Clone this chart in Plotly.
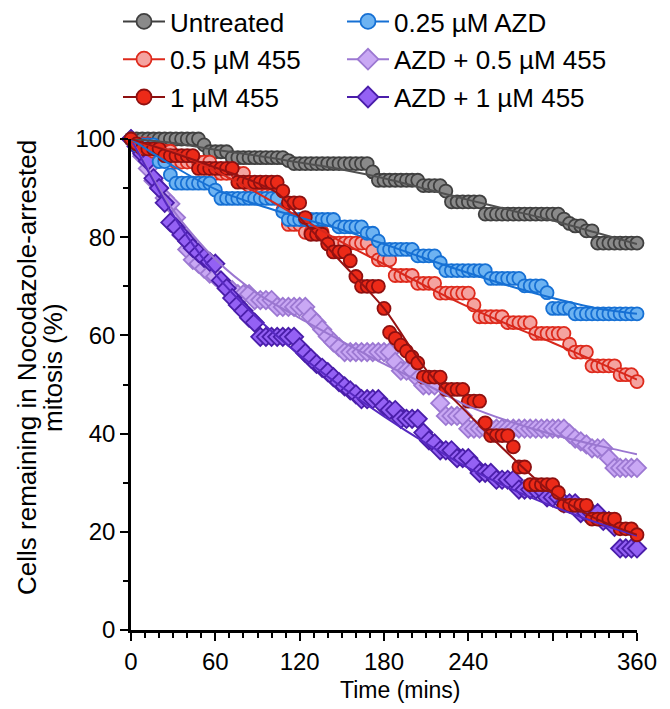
import plotly.graph_objects as go

# Sampling times (minutes)
TIME = [0, 4, 8, 12, 16, 20, 24, 28, 32, 36, 40, 44, 48, 52, 56, 60, 64, 68, 72, 76,
        80, 84, 88, 92, 96, 100, 104, 108, 112, 116, 120, 124, 128, 132, 136, 140,
        144, 148, 152, 156, 160, 164, 168, 172, 176, 180, 184, 188, 192, 196, 200,
        204, 208, 212, 216, 220, 224, 228, 232, 236, 240, 244, 248, 252, 256, 260,
        264, 268, 272, 276, 280, 284, 288, 292, 296, 300, 304, 308, 312, 316, 320,
        324, 328, 332, 336, 340, 344, 348, 352, 356, 360]

# Percentage of cells still arrested in mitosis
UNTREATED = [100, 100, 100, 100, 100, 100, 100, 100, 100, 100, 100, 100, 100,
             98.8, 97.4, 97.4, 97.4, 97.4,
             96.2, 96.2, 96.2, 96.2, 96.2, 96.2, 96.2, 96.2, 96.2, 96.2,
             95.6, 95.0, 95.0, 95.0, 95.0, 95.0, 95.0, 95.0, 95.0, 95.0, 95.0, 95.0, 95.0, 95.0, 95.0,
             93.3, 91.6, 91.6, 91.6, 91.6, 91.6, 91.6, 91.6, 91.6,
             90.5, 90.5, 90.5, 90.5, 89.4, 87.2, 87.2, 87.2, 87.2, 87.2, 87.2,
             84.7, 84.7, 84.7, 84.7, 84.7, 84.7, 84.7, 84.7, 84.7, 84.7, 84.7, 84.7, 84.7, 84.7,
             83.7, 82.8, 82.3, 82.3, 81.3, 81.3,
             78.8, 78.8, 78.8, 78.8, 78.8, 78.8, 78.8, 78.8]

LOW_455 = [100, 99.0, 99.0, 99.0, 97.5, 97.5, 97.5, 97.5,
           95.3, 95.3, 95.3, 95.3, 95.3, 95.3, 95.3,
           93.0, 93.0, 93.0, 93.0, 93.0, 93.0, 90.5, 88.5, 88.5, 88.5, 88.5, 88.5,
           85.5, 82.6, 82.6, 82.6, 81.0, 81.0, 81.0, 81.0,
           78.8, 78.8, 78.8, 78.8, 78.8, 78.8, 78.8, 78.8,
           77.2, 75.4, 75.4, 75.4, 72.2, 72.2, 72.2, 72.2, 70.6, 70.6, 70.6, 70.6,
           68.6, 68.6, 68.6, 68.6, 68.6, 68.6, 66.2, 63.8, 63.8, 63.8, 63.8, 63.8,
           62.6, 62.6, 62.6, 62.6, 62.6, 60.4, 60.4, 60.4, 60.4, 60.4, 60.4,
           58.2, 56.6, 56.6, 56.6, 53.8, 53.8, 53.8, 53.8, 53.8, 52.0, 52.0, 52.0, 50.6]

HIGH_455 = [100, 99.0, 98.0, 98.0, 98.0, 98.0, 96.6, 96.6, 96.6, 96.6, 96.6, 96.6,
            94.0, 94.0, 94.0, 94.0, 94.0, 94.0, 94.0,
            91.2, 91.2, 91.2, 91.2, 91.2, 91.2, 91.2, 91.2,
            89.4, 87.0, 87.0, 87.0, 84.0, 80.6, 80.6, 80.6, 78.6, 77.0, 77.0, 77.0, 75.2,
            72.0, 70.0, 70.0, 70.0, 70.0, 65.5, 60.6, 59.4, 58.0, 56.8, 55.6, 54.4,
            51.5, 51.5, 51.5, 51.5, 49.0, 49.0, 49.0, 49.0, 46.6, 46.6, 46.6,
            42.2, 39.6, 39.6, 39.6, 39.6, 37.3, 33.2, 33.2,
            29.6, 29.6, 29.6, 29.6, 29.6, 28.0, 25.4, 25.4, 25.4, 25.4, 25.4,
            22.6, 22.6, 22.6, 22.6, 22.6, 20.6, 20.6, 20.6, 19.4]

AZD_025 = [100, 98.8, 98.8, 98.8, 98.8, 95.4, 95.4, 92.7,
           91.0, 91.0, 91.0, 91.0, 91.0, 91.0, 91.0, 89.6,
           87.9, 87.9, 87.9, 87.9, 87.9, 87.9, 87.9, 87.9, 87.9, 87.9, 87.9,
           85.2, 83.6, 83.6, 83.6, 83.6, 83.6, 83.6, 83.6, 83.6, 83.6,
           82.1, 82.1, 82.1, 82.1, 82.1, 80.8, 80.8, 79.2,
           77.5, 77.5, 77.5, 77.5, 77.5, 77.5, 76.2, 76.2, 76.2, 76.2, 74.8,
           73.2, 73.2, 73.2, 73.2, 73.2, 73.2, 73.2, 73.2,
           71.6, 71.6, 71.6, 71.6, 71.6, 71.6, 70.1, 70.1, 70.1, 70.1, 68.7,
           65.5, 65.5, 65.5, 65.5,
           64.4, 64.4, 64.4, 64.4, 64.4, 64.4, 64.4, 64.4, 64.4, 64.4, 64.4, 64.4]

AZD_LOW_455 = [100, 98.5, 96.5, 94.0, 91.5, 90.0, 88.0, 86.8, 84.0, 80.4, 77.5, 75.4,
               74.6, 73.6, 72.6, 72.0, 71.0, 70.0, 69.2, 68.4, 68.4, 68.4,
               67.2, 67.2, 67.2, 67.2, 65.8, 65.8, 65.8, 65.8, 65.8, 65.8,
               63.8, 62.6, 61.2, 59.8, 58.6, 57.6,
               56.6, 56.6, 56.6, 56.6, 56.6, 56.6, 56.6, 56.6, 56.6,
               54.6, 52.8, 52.8, 52.8, 51.2, 49.8, 49.8, 49.8, 46.2, 43.6, 43.6, 43.6, 43.6,
               41.0, 41.0, 41.0, 41.0, 41.0, 41.0, 41.0, 41.0, 41.0, 41.0, 41.0, 41.0,
               41.0, 41.0, 41.0, 41.0, 41.0, 41.0,
               40.0, 39.0, 38.4, 37.8, 37.0, 37.0, 37.0, 35.0, 33.0, 33.0, 33.0, 33.0, 33.0]

AZD_HIGH_455 = [100, 98.5, 97.0, 95.5, 92.0, 90.0, 87.0, 83.0, 82.0, 80.5, 79.2, 77.8,
                76.8, 75.8, 75.0, 74.6, 71.2, 69.6, 67.6, 66.2, 65.0, 63.6, 62.6,
                59.7, 59.7, 59.7, 59.7, 59.7, 59.7, 59.7,
                57.6, 56.4, 55.3, 54.2, 53.4, 52.5, 51.5, 50.5, 49.6, 48.8, 48.0,
                47.0, 47.0, 47.0, 47.0, 45.6, 44.8, 44.8, 43.0, 43.0, 43.0, 43.0,
                40.2, 38.6, 38.0, 36.6, 36.6, 36.6, 35.0, 35.0, 35.0, 33.6, 32.0, 32.0, 32.0,
                30.6, 30.6, 30.6, 30.6, 28.6, 28.6, 28.6, 28.6, 28.6, 27.0, 27.0, 27.0,
                25.8, 25.8, 25.8, 23.8, 23.8, 23.8, 23.8, 22.2, 22.2, 21.0,
                16.6, 16.6, 16.6, 16.6]

# Fitted decay curves, sampled along time
FIT_T = [0, 30, 60, 90, 120, 150, 180, 210, 240, 270, 300, 330, 360]
FIT_UNTREATED = [100, 99.2, 97.8, 96.6, 95.2, 93.8, 92.0, 89.8, 87.6, 85.5, 83.4, 81.0, 78.6]
FIT_LOW_455 = [99.5, 97.5, 93.5, 89.0, 84.0, 79.0, 74.5, 70.0, 65.8, 62.0, 58.5, 54.8, 51.0]
FIT_AZD_025 = [100, 94.5, 89.8, 86.6, 84.0, 81.5, 78.6, 75.6, 72.7, 70.0, 67.6, 65.6, 64.4]
FIT_AZD_LOW_455 = [100, 85.5, 75.5, 68.5, 63.5, 58.8, 54.2, 50.0, 45.6, 42.4, 39.8, 37.7, 35.8]
FIT_AZD_HIGH_455 = [100, 84.5, 72.5, 63.5, 56.0, 49.5, 43.5, 38.0, 33.0, 28.8, 25.2, 22.0, 19.2]
FIT_HIGH_T = [0, 30, 60, 90, 105, 120, 150, 180, 210, 240, 270, 300, 330, 360]
FIT_HIGH_455 = [100, 97.2, 94.2, 91.0, 88.8, 84.0, 74.8, 65.5, 53.0, 44.0, 35.5, 27.8, 22.8, 19.4]

# name, values, fit x, fit y, symbol, fill, edge, line colour, legend column
SERIES = [
    ("AZD + 0.5 µM 455", AZD_LOW_455, FIT_T, FIT_AZD_LOW_455, "diamond", "#C9A8F4", "#9C78D2", "#9A76D0", "legend2"),
    ("AZD + 1 µM 455", AZD_HIGH_455, FIT_T, FIT_AZD_HIGH_455, "diamond", "#9461F4", "#4A1EAA", "#5628C0", "legend2"),
    ("Untreated", UNTREATED, FIT_T, FIT_UNTREATED, "circle", "#8A8A8A", "#404040", "#505050", "legend"),
    ("0.5 µM 455", LOW_455, FIT_T, FIT_LOW_455, "circle", "#F4A3A0", "#DE2A1C", "#D8281C", "legend"),
    ("0.25 µM AZD", AZD_025, FIT_T, FIT_AZD_025, "circle", "#6DB3F2", "#1670D4", "#1670D4", "legend2"),
    ("1 µM 455", HIGH_455, FIT_HIGH_T, FIT_HIGH_455, "circle", "#EC2A18", "#8E1010", "#961212", "legend"),
]
LEGEND_ORDER = ["Untreated", "0.5 µM 455", "1 µM 455",
                "0.25 µM AZD", "AZD + 0.5 µM 455", "AZD + 1 µM 455"]

FONT = "Liberation Sans, Arial, Helvetica, sans-serif"

# plot-area pixel geometry, used to place legends and titles in paper units
PL, PR, PT, PB = 131, 637, 139, 630
PW, PH = PR - PL, PB - PT


def px(x):
    return (x - PL) / PW


def py(y):
    return (PB - y) / PH


fig = go.Figure()

for name, vals, fx, fy, sym, fill, edge, lcol, leg in SERIES:
    fig.add_trace(go.Scatter(
        x=TIME, y=vals, mode="markers", showlegend=False, cliponaxis=False,
        marker=dict(symbol=sym, size=13 if sym == "circle" else 14, color=fill,
                    line=dict(color=edge, width=1.8)),
    ))

for name, vals, fx, fy, sym, fill, edge, lcol, leg in SERIES:
    fig.add_trace(go.Scatter(
        x=fx, y=fy, mode="lines", showlegend=False, cliponaxis=False,
        line=dict(color=lcol, width=2, shape="spline", smoothing=0.8),
    ))

# legend entries (line through marker)
style = {s[0]: s for s in SERIES}
for i, name in enumerate(LEGEND_ORDER):
    _, _, _, _, sym, fill, edge, lcol, leg = style[name]
    fig.add_trace(go.Scatter(
        x=[None], y=[None], mode="lines+markers", name=name, legend=leg,
        legendgroup=name, legendrank=i,
        line=dict(color=edge, width=2),
        marker=dict(symbol=sym, size=15 if sym == "circle" else 17, color=fill,
                    line=dict(color=edge, width=1.8)),
    ))

axis_common = dict(
    showline=True, linecolor="black", linewidth=2.5, showgrid=False, zeroline=False,
    ticks="outside", ticklen=8, tickwidth=2, tickcolor="black",
    tickfont=dict(family=FONT, size=24, color="black"),
)

fig.update_xaxes(range=[0, 360], tickvals=[0, 60, 120, 180, 240, 300, 360],
                 ticktext=["0", "60", "120", "180", "240", "", "360"],
                 minor=dict(dtick=10, tick0=0, ticks="outside", ticklen=5,
                            tickwidth=2, tickcolor="black"),
                 **axis_common)
fig.update_yaxes(range=[0, 100], tickvals=[0, 20, 40, 60, 80, 100],
                 minor=dict(dtick=10, tick0=0, ticks="outside", ticklen=5,
                            tickwidth=2, tickcolor="black"),
                 **axis_common)

legend_common = dict(
    font=dict(family=FONT, size=26, color="black"), bgcolor="rgba(0,0,0,0)",
    orientation="v", xanchor="left", yanchor="top", traceorder="grouped",
    tracegroupgap=1, itemsizing="trace", itemwidth=42,
)

fig.update_layout(
    width=670, height=709,
    margin=dict(l=PL, r=670 - PR, t=PT, b=709 - PB, autoexpand=False),
    paper_bgcolor="white", plot_bgcolor="white",
    font=dict(family=FONT, color="black"),
    legend=dict(x=px(118), y=py(-2), **legend_common),
    legend2=dict(x=px(342), y=py(-2), **legend_common),
    annotations=[
        dict(text="Cells remaining in Nocodazole-arrested",
             xref="paper", yref="paper", x=px(27), y=py(368), textangle=-90,
             showarrow=False, font=dict(family=FONT, size=26, color="black"),
             xanchor="center", yanchor="middle"),
        dict(text="mitosis (%)",
             xref="paper", yref="paper", x=px(53), y=py(368), textangle=-90,
             showarrow=False, font=dict(family=FONT, size=26, color="black"),
             xanchor="center", yanchor="middle"),
        dict(text="Time (mins)", xref="paper", yref="paper", x=px(400), y=py(690),
             showarrow=False, font=dict(family=FONT, size=23, color="black"),
             xanchor="center", yanchor="middle"),
    ],
)

fig.write_html("out.html")
